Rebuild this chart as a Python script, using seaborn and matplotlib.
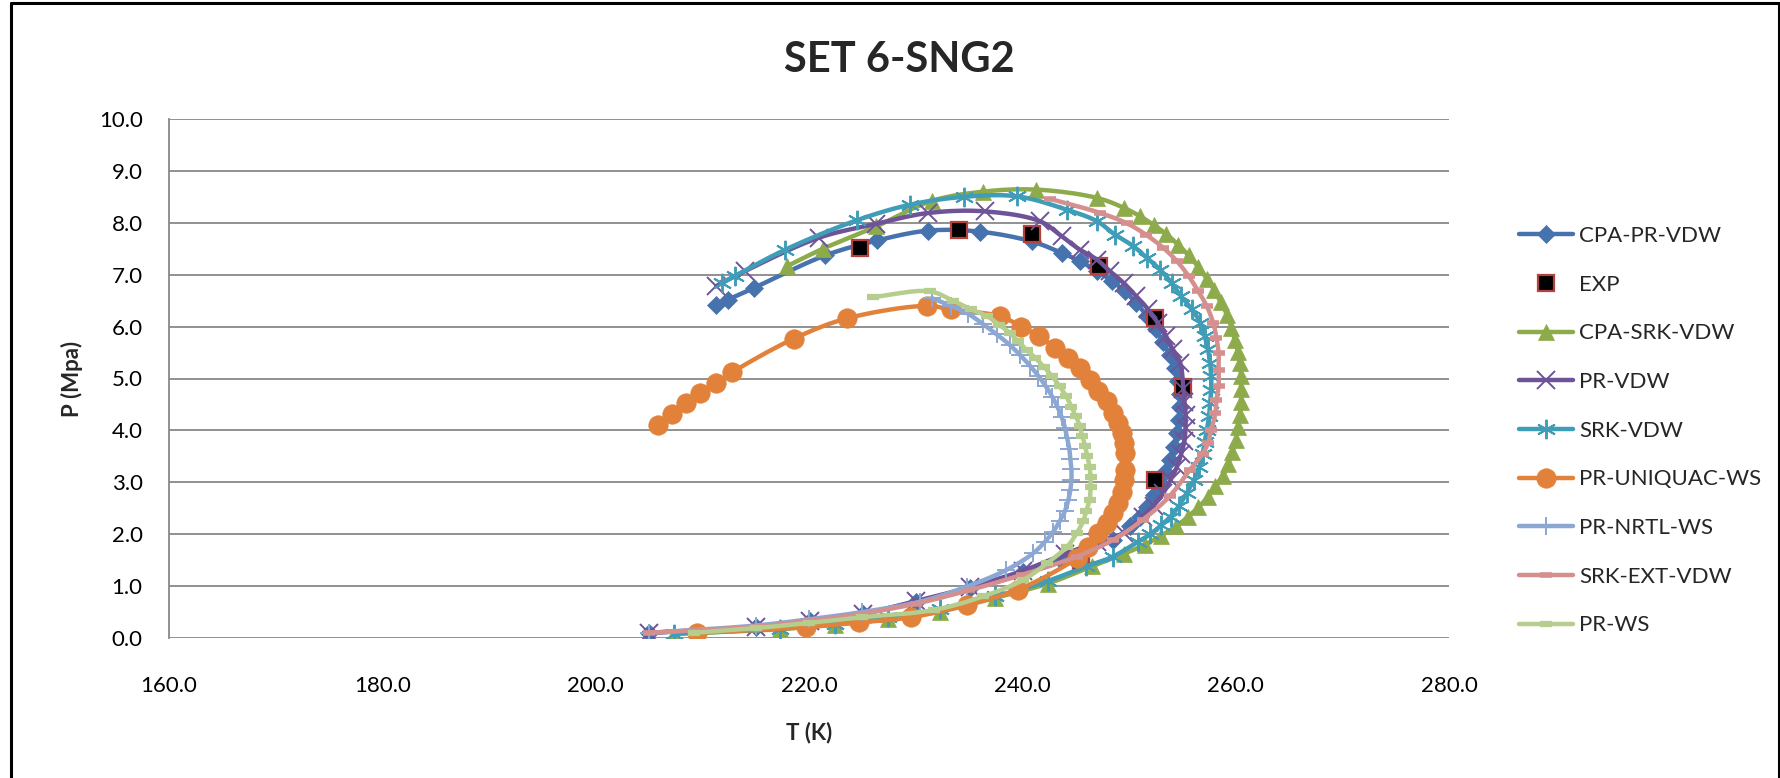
import numpy as np
import matplotlib
matplotlib.use("Agg")
import matplotlib.pyplot as plt
from matplotlib.lines import Line2D
import seaborn as sns

# ---- phase-envelope data: temperature T (K) and pressure P (MPa) ----
cpa_pr_T = [205.0, 215.0, 220.1, 225.1, 230.0, 235.1, 240.1, 243.5, 246.2, 248.5,
            250.1, 251.0, 251.7, 252.3, 252.9, 253.4, 253.8, 254.2, 254.5, 254.7,
            254.8, 254.8, 254.6, 254.3, 253.8, 253.2, 252.5, 251.7, 250.7, 249.6,
            248.4, 247.0, 245.4, 243.7, 240.9, 236.0, 231.2, 226.4, 221.5, 214.8,
            212.4, 211.25]
cpa_pr_P = [0.10, 0.21, 0.33, 0.47, 0.70, 0.96, 1.28, 1.52, 1.72, 1.89,
            2.15, 2.33, 2.53, 2.75, 2.98, 3.20, 3.43, 3.68, 3.95, 4.20,
            4.45, 4.70, 4.95, 5.20, 5.45, 5.70, 5.95, 6.20, 6.45, 6.68,
            6.88, 7.07, 7.26, 7.42, 7.64, 7.83, 7.85, 7.66, 7.37, 6.74,
            6.52, 6.42]

exp_T = [224.8, 234.1, 240.9, 247.2, 252.4, 255.1, 252.4, 245.5]
exp_P = [7.52, 7.86, 7.79, 7.17, 6.17, 4.84, 3.05, 1.47]

cpa_srk_T = [207.3, 217.3, 222.4, 227.4, 232.3, 237.4, 242.4, 246.5, 249.5, 251.5,
             253.0, 254.4, 255.5, 256.5, 257.4, 258.1, 258.8, 259.3, 259.7, 260.0,
             260.2, 260.4, 260.5, 260.5, 260.5, 260.4, 260.2, 259.9, 259.6, 259.2,
             258.6, 258.0, 257.3, 256.5, 255.6, 254.6, 253.5, 252.3, 251.0, 249.5,
             247.0, 241.3, 236.3, 231.5, 226.3, 221.3, 217.9]
cpa_srk_P = [0.08, 0.17, 0.26, 0.37, 0.51, 0.77, 1.05, 1.38, 1.62, 1.80,
             1.97, 2.15, 2.33, 2.52, 2.72, 2.92, 3.13, 3.35, 3.58, 3.82,
             4.06, 4.30, 4.55, 4.80, 5.05, 5.30, 5.52, 5.75, 5.98, 6.22,
             6.47, 6.70, 6.92, 7.15, 7.37, 7.58, 7.78, 7.96, 8.13, 8.29,
             8.48, 8.64, 8.60, 8.42, 7.93, 7.50, 7.16]

pr_vdw_T = [205.0, 215.0, 220.1, 225.1, 230.0, 235.1, 240.1, 244.0, 247.0, 249.5,
            251.3, 252.3, 253.2, 253.9, 254.5, 254.9, 255.2, 255.3, 255.3, 255.2,
            255.1, 254.8, 254.1, 253.5, 252.7, 251.8, 250.7, 249.5, 248.2, 247.0,
            245.4, 243.7, 241.65, 236.5, 231.2, 226.3, 220.9, 214.0, 211.3]
pr_vdw_P = [0.10, 0.21, 0.33, 0.47, 0.71, 0.98, 1.30, 1.62, 1.85, 2.02,
            2.34, 2.55, 2.79, 3.05, 3.30, 3.55, 3.80, 4.05, 4.30, 4.55,
            4.80, 5.30, 5.56, 5.81, 6.07, 6.33, 6.58, 6.84, 7.07, 7.29,
            7.48, 7.74, 8.03, 8.22, 8.19, 7.98, 7.71, 7.07, 6.78]

srk_vdw_T = [207.3, 217.3, 222.4, 227.4, 232.3, 237.4, 242.4, 246.0, 248.5, 250.8,
             252.0, 253.0, 253.9, 254.7, 255.4, 256.1, 256.6, 256.9, 257.1, 257.3,
             257.5, 257.6, 257.7, 257.7, 257.6, 257.4, 257.1, 256.7, 255.9, 254.9,
             254.0, 252.9, 251.7, 250.4, 248.7, 247.0, 244.2, 239.5, 234.5, 229.5,
             224.5, 217.75, 213.1, 211.8]
srk_vdw_P = [0.08, 0.18, 0.27, 0.40, 0.55, 0.80, 1.10, 1.38, 1.57, 1.85,
             2.00, 2.17, 2.34, 2.55, 2.79, 3.05, 3.30, 3.55, 3.78, 4.01,
             4.27, 4.53, 4.78, 5.04, 5.30, 5.56, 5.81, 6.07, 6.33, 6.58,
             6.84, 7.10, 7.32, 7.55, 7.77, 8.03, 8.25, 8.51, 8.50, 8.35,
             8.05, 7.48, 6.98, 6.84]

uniquac_T = [209.5, 219.7, 224.7, 229.6, 234.8, 239.6, 245.1, 246.2, 247.1, 247.9,
             248.5, 249.0, 249.3, 249.5, 249.6, 249.6, 249.5, 249.3, 249.0, 248.5,
             247.9, 247.1, 246.3, 245.4, 244.3, 243.1, 241.6, 239.9, 237.9, 233.3,
             231.1, 223.6, 218.6, 212.8, 211.3, 209.8, 208.5, 207.2, 205.8]
uniquac_P = [0.10, 0.21, 0.30, 0.40, 0.64, 0.93, 1.54, 1.76, 2.02, 2.21,
             2.40, 2.60, 2.82, 3.05, 3.24, 3.56, 3.75, 3.95, 4.14, 4.33,
             4.56, 4.75, 4.98, 5.20, 5.39, 5.59, 5.81, 6.00, 6.20, 6.33,
             6.40, 6.16, 5.77, 5.12, 4.91, 4.72, 4.53, 4.31, 4.11]

nrtl_T = [205.0, 215.0, 220.0, 225.0, 230.4, 234.8, 238.5, 241.0, 242.1, 242.9,
          243.5, 244.0, 244.3, 244.5, 244.6, 244.6, 244.5, 244.4, 244.2, 244.0,
          243.7, 243.3, 242.8, 242.2, 241.5, 240.7, 239.8, 238.8, 237.6, 236.3,
          234.9, 233.3, 231.5]
nrtl_P = [0.10, 0.24, 0.36, 0.50, 0.70, 0.99, 1.31, 1.63, 1.85, 2.05,
          2.25, 2.45, 2.65, 2.85, 3.05, 3.25, 3.45, 3.65, 3.85, 4.05,
          4.25, 4.45, 4.65, 4.85, 5.05, 5.25, 5.45, 5.65, 5.85, 6.05,
          6.25, 6.40, 6.55]

srk_ext_T = [205.0, 215.0, 220.0, 225.0, 230.0, 235.0, 240.0, 245.1, 248.5, 251.3,
             253.8, 255.7, 256.9, 257.4, 257.7, 258.1, 258.2, 258.4, 258.4, 258.4,
             258.2, 257.9, 257.3, 256.5, 255.6, 254.5, 253.2, 251.6, 249.8, 247.3,
             242.6]
srk_ext_P = [0.10, 0.22, 0.33, 0.47, 0.66, 0.92, 1.22, 1.57, 1.89, 2.28,
             2.73, 3.24, 3.55, 3.75, 4.01, 4.33, 4.59, 4.85, 5.17, 5.49,
             5.78, 6.07, 6.39, 6.68, 6.97, 7.26, 7.52, 7.77, 7.99, 8.19,
             8.46]

pr_ws_T = [209.2, 215.0, 220.0, 225.0, 231.7, 236.3, 240.1, 242.3, 244.2, 245.1,
           245.7, 246.0, 246.3, 246.4, 246.4, 246.3, 246.1, 245.9, 245.6, 245.4,
           245.0, 244.6, 244.1, 243.5, 242.8, 242.0, 241.2, 240.4, 239.6, 238.8,
           237.8, 236.7, 235.2, 233.5, 231.3, 226.0]
pr_ws_P = [0.10, 0.19, 0.29, 0.40, 0.54, 0.80, 1.12, 1.44, 1.76, 2.02,
           2.25, 2.45, 2.66, 2.90, 3.10, 3.30, 3.50, 3.69, 3.90, 4.08,
           4.28, 4.46, 4.66, 4.85, 5.04, 5.23, 5.40, 5.55, 5.72, 5.88,
           6.04, 6.20, 6.33, 6.50, 6.68, 6.57]

x_ticks = [160, 180, 200, 220, 240, 260, 280]
y_ticks = list(range(0, 11))

FONT = ["Lato", "DejaVu Sans"]

sns.set_theme(style="white")
plt.rcParams["font.family"] = FONT

W, H = 1781, 778
fig = plt.figure(figsize=(W / 100, H / 100), dpi=100)
ax = fig.add_axes([169 / W, 1 - 638 / H, (1449 - 169) / W, (638 - 119) / H])

XS, YS = 10.667, 51.85  # pixels per unit, so smoothing works in screen space


def smooth(xs, ys, n=10):
    """Centripetal Catmull-Rom curve through the points (smoothed line)."""
    p = np.column_stack([np.asarray(xs) * XS, np.asarray(ys) * YS])
    p = np.vstack([2 * p[0] - p[1], p, 2 * p[-1] - p[-2]])
    out = []
    for i in range(1, len(p) - 2):
        p0, p1, p2, p3 = p[i - 1], p[i], p[i + 1], p[i + 2]
        t0 = 0.0
        t1 = t0 + max(np.linalg.norm(p1 - p0) ** 0.5, 1e-6)
        t2 = t1 + max(np.linalg.norm(p2 - p1) ** 0.5, 1e-6)
        t3 = t2 + max(np.linalg.norm(p3 - p2) ** 0.5, 1e-6)
        for t in np.linspace(t1, t2, n, endpoint=False):
            a1 = (t1 - t) / (t1 - t0) * p0 + (t - t0) / (t1 - t0) * p1
            a2 = (t2 - t) / (t2 - t1) * p1 + (t - t1) / (t2 - t1) * p2
            a3 = (t3 - t) / (t3 - t2) * p2 + (t - t2) / (t3 - t2) * p3
            b1 = (t2 - t) / (t2 - t0) * a1 + (t - t0) / (t2 - t0) * a2
            b2 = (t3 - t) / (t3 - t1) * a2 + (t - t1) / (t3 - t1) * a3
            out.append((t2 - t) / (t2 - t1) * b1 + (t - t1) / (t2 - t1) * b2)
    out.append(p[-2])
    out = np.array(out)
    return out[:, 0] / XS, out[:, 1] / YS


series = [
    # label, T, P, colour, marker, size, edge width, has line
    ("CPA-PR-VDW", cpa_pr_T, cpa_pr_P, "#4673AE", "D", 9, 0.5, True),
    ("EXP", exp_T, exp_P, "#000000", "s", 12, 1.6, False),
    ("CPA-SRK-VDW", cpa_srk_T, cpa_srk_P, "#8DAB4B", "^", 12, 0.5, True),
    ("PR-VDW", pr_vdw_T, pr_vdw_P, "#6E5398", "x", 13, 1.4, True),
    ("SRK-VDW", srk_vdw_T, srk_vdw_P, "#3F9DB8", (6, 2, 0), 14, 1.4, True),
    ("PR-UNIQUAC-WS", uniquac_T, uniquac_P, "#E2823A", "o", 14, 0.5, True),
    ("PR-NRTL-WS", nrtl_T, nrtl_P, "#8DA7D3", "+", 13, 1.4, True),
    ("SRK-EXT-VDW", srk_ext_T, srk_ext_P, "#D48F8E", "_", 9, 4.0, True),
    ("PR-WS", pr_ws_T, pr_ws_P, "#B5CD8D", "_", 9, 4.5, True),
]

handles = []
for k, (label, T, P, col, mk, ms, mew, has_line) in enumerate(series):
    z = 3 + 2 * k
    if has_line:
        sx, sy = smooth(T, P)
        sns.lineplot(x=sx, y=sy, sort=False, estimator=None, ax=ax,
                     color=col, linewidth=3.2, zorder=z, legend=False)
    if label == "EXP":
        face, edge = "#000000", "#B5403D"
    else:
        face, edge = col, col
    sns.lineplot(x=T, y=P, sort=False, estimator=None, ax=ax, linestyle="",
                 marker=mk, markersize=ms, markerfacecolor=face,
                 markeredgecolor=edge, markeredgewidth=mew, color=col,
                 zorder=z + 1, legend=False)
    handles.append(Line2D([0], [0], color=col if has_line else "none",
                          linewidth=3.2, marker=mk, markersize=ms,
                          markerfacecolor=face, markeredgecolor=edge,
                          markeredgewidth=mew, label=label))

ax.set_xlim(160, 280)
ax.set_ylim(0, 10)
ax.set_xticks(x_ticks)
ax.set_yticks(y_ticks)
ax.set_xticklabels([f"{v:.1f}" for v in x_ticks])
ax.set_yticklabels([f"{v:.1f}" for v in y_ticks])
ax.tick_params(axis="x", length=0, pad=27, labelsize=16, labelcolor="#000000")
ax.tick_params(axis="y", length=0, pad=19, labelsize=16, labelcolor="#000000")
ax.grid(axis="y", color="#888888", linewidth=1.3)
ax.grid(axis="x", visible=False)
for side in ("top", "right", "bottom"):
    ax.spines[side].set_visible(False)
ax.spines["left"].set_color("#888888")
ax.spines["left"].set_linewidth(1.3)
ax.set_axisbelow(True)

ax.set_xlabel("")
ax.set_ylabel("")
fig.text(809 / W, 1 - 733 / H, "T (K)", ha="center", va="center",
         fontsize=16, fontweight="bold", family=FONT)
fig.text(72 / W, 1 - 379 / H, "P (Mpa)", ha="center", va="center",
         rotation=90, fontsize=16, fontweight="bold", family=FONT)
fig.text(899 / W, 1 - 60 / H, "SET 6-SNG2", ha="center", va="center",
         fontsize=30, fontweight="bold", family=FONT)

leg = fig.legend(handles=handles, loc="upper left",
                 bbox_to_anchor=(1519 / W, 1 - 226 / H), frameon=False,
                 fontsize=16, handlelength=2.45, handletextpad=0.25,
                 labelspacing=1.29, borderpad=0, borderaxespad=0, numpoints=1)

# chart border
border = dict(color="#000000", linewidth=2.2, transform=fig.transFigure)
fig.add_artist(Line2D([11 / W, 11 / W], [0, 1 - 3 / H], **border))
fig.add_artist(Line2D([11 / W, 1779 / W], [1 - 3 / H, 1 - 3 / H], **border))
fig.add_artist(Line2D([1779 / W, 1779 / W], [0, 1 - 3 / H], **border))

fig.savefig("out.png", dpi=100)
